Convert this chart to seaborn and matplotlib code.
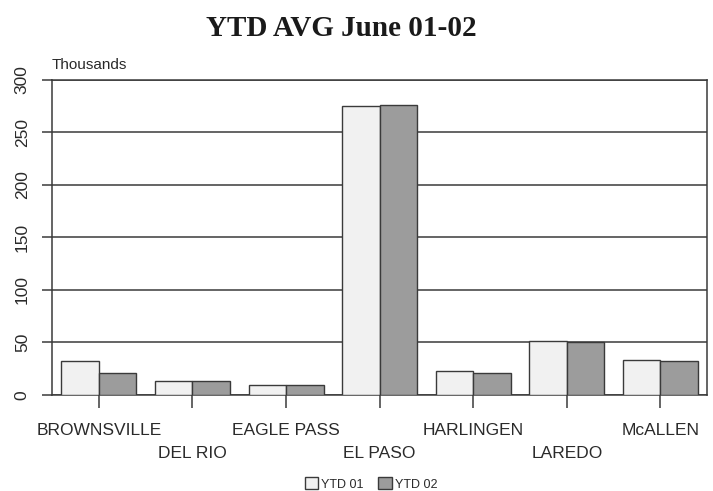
import pandas as pd
import matplotlib
matplotlib.use("Agg")
import matplotlib.pyplot as plt
import seaborn as sns

# values (thousands)
cities = ["BROWNSVILLE", "DEL RIO", "EAGLE PASS", "EL PASO",
          "HARLINGEN", "LAREDO", "McALLEN"]
ytd01 = [32, 13.5, 9, 275, 22.5, 51.5, 33]
ytd02 = [21, 13.5, 9, 276, 21, 50, 32]
series = ["YTD 01", "YTD 02"]
yticks = [0, 50, 100, 150, 200, 250, 300]

df = pd.DataFrame({
    "city": cities * 2,
    "series": [series[0]] * len(cities) + [series[1]] * len(cities),
    "value": ytd01 + ytd02,
})

sns.set_style("white")
plt.rcParams["font.family"] = ["Liberation Sans", "DejaVu Sans"]

fig = plt.figure(figsize=(7.13, 4.91), dpi=100)
ax = fig.add_axes([0.073, 0.196, 0.919, 0.641])

sns.barplot(data=df, x="city", y="value", hue="series", order=cities,
            palette=["#f1f1f1", "#9c9c9c"], saturation=1, width=0.8,
            edgecolor="#3a3a3a", linewidth=1, ax=ax, zorder=3)

ax.set_xlim(-0.5, len(cities) - 0.5)
ax.set_ylim(0, 300)
ax.set_yticks(yticks)
ax.set_yticklabels([str(v) for v in yticks], rotation=90, va="center",
                   fontsize=12.5, color="#2a2a2a")
ax.yaxis.grid(True, color="#3a3a3a", linewidth=1.1, zorder=0)
ax.tick_params(axis="y", length=7, width=1.1, color="#3a3a3a", pad=9, left=True)
ax.tick_params(axis="x", length=9, width=1.1, color="#3a3a3a", bottom=True)
for side in ["left", "right", "top", "bottom"]:
    ax.spines[side].set_visible(True)
    ax.spines[side].set_color("#3a3a3a")
    ax.spines[side].set_linewidth(1.1)
ax.set_xlabel("")
ax.set_ylabel("")

# staggered category labels
ax.set_xticks(range(len(cities)))
ax.set_xticklabels(cities, fontsize=12.5, color="#2a2a2a")
for i, tick in enumerate(ax.xaxis.get_major_ticks()):
    tick.set_pad(11 if i % 2 == 0 else 28)

ax.text(0.0, 1.025, "Thousands", transform=ax.transAxes, fontsize=11,
        color="#2a2a2a", ha="left", va="bottom")

fig.suptitle("YTD AVG June 01-02", x=0.478, y=0.97, fontsize=21,
             fontweight="bold", family="Liberation Serif", color="#1a1a1a")

ax.legend_.remove()
handles, labels = ax.get_legend_handles_labels()
fig.legend(handles, labels, loc="lower center", bbox_to_anchor=(0.52, -0.022),
           ncol=2, frameon=False, fontsize=9, handlelength=1.1,
           handleheight=1.1, handletextpad=0.2, columnspacing=1.2,
           labelcolor="#2a2a2a")

fig.savefig("out.png", dpi=100, facecolor="white")
